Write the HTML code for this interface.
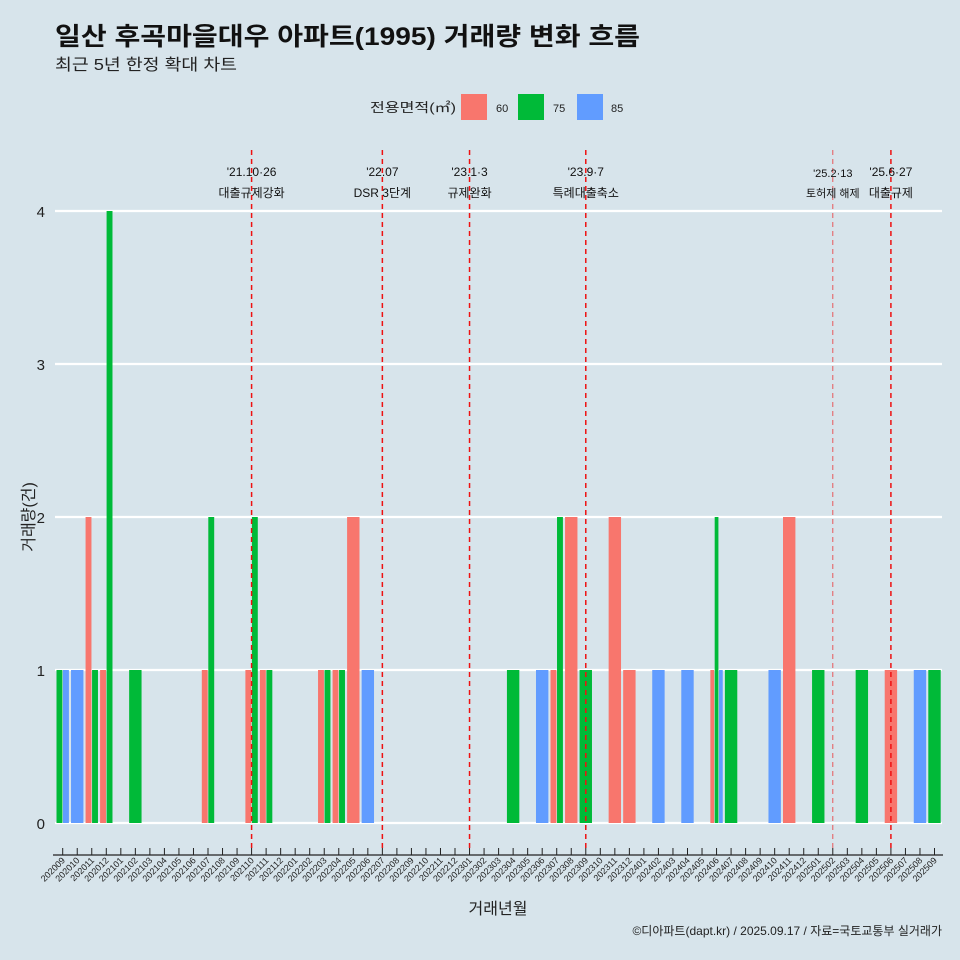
<!DOCTYPE html>
<html><head><meta charset="utf-8"><style>
body{margin:0;background:#d7e4eb;}
svg{display:block;font-family:"Liberation Sans","Noto Sans CJK KR",sans-serif;}
</style></head><body>
<svg id="chart" width="960" height="960" viewBox="0 0 960 960">
<rect width="960" height="960" fill="#d7e4eb"/>
<text x="55" y="45" font-size="25" font-weight="bold" fill="#111" textLength="585" lengthAdjust="spacingAndGlyphs">일산 후곡마을대우 아파트(1995) 거래량 변화 흐름</text>
<text x="55" y="70" font-size="16" fill="#222" textLength="182" lengthAdjust="spacingAndGlyphs">최근 5년 한정 확대 차트</text>
<g>
<text x="370" y="112" font-size="13" fill="#222" textLength="86" lengthAdjust="spacingAndGlyphs">전용면적(㎡)</text>
<rect x="461" y="94" width="26" height="26" fill="#f8766d"/>
<text x="496" y="112" font-size="11" fill="#222">60</text>
<rect x="518" y="94" width="26" height="26" fill="#00ba38"/>
<text x="553" y="112" font-size="11" fill="#222">75</text>
<rect x="577" y="94" width="26" height="26" fill="#619cff"/>
<text x="611" y="112" font-size="11" fill="#222">85</text>
</g>
<g id="grid"></g><g id="bars"></g><g id="events"></g><g id="axes"></g>
<text x="498" y="914" font-size="16" text-anchor="middle" fill="#222">거래년월</text>
<text transform="translate(34,517) rotate(-90)" font-size="16" text-anchor="middle" fill="#222">거래량(건)</text>
<text x="942" y="935" font-size="12" text-anchor="end" fill="#222">©디아파트(dapt.kr) / 2025.09.17 / 자료=국토교통부 실거래가</text>
</svg>
<script>
const months = [];
for (let y = 2020, m = 9; !(y === 2025 && m === 10); ) { months.push(String(y) + String(m).padStart(2, '0')); m++; if (m > 12) { m = 1; y++; } }
const sizes = ['60', '75', '85'];
const colors = {'60': '#f8766d', '75': '#00ba38', '85': '#619cff'};
const dealMonths = ['202009','202009','202010','202011','202011','202012','202012','202102','202107','202107','202110','202110','202111','202111','202203','202203','202204','202204','202205','202206','202304','202306','202307','202307','202308','202309','202311','202312','202402','202404','202406','202406','202406','202407','202410','202411','202501','202504','202506','202508','202509'];
const dealSizes =  ['75','85','85','60','75','60','75','75','60','75','60','75','60','75','60','75','60','75','60','85','75','85','60','75','60','75','60','60','85','85','60','75','85','75','85','60','75','75','60','85','75'];
const dealCounts = [1,1,1,2,1,1,4,1,1,2,1,2,1,1,1,1,1,1,2,1,1,1,1,2,2,1,2,1,1,1,1,2,1,1,1,2,1,1,1,1,1];
const yTicks = [0, 1, 2, 3, 4];
const eventMonths = ['202110', '202207', '202301', '202309', '202502', '202506'];
const eventLine1 = ["'21.10·26", "'22.07", "'23.1·3", "'23.9·7", "'25.2·13", "'25.6·27"];
const eventLine2 = ['대출규제강화', 'DSR 3단계', '규제완화', '특례대출축소', '토허제 해제', '대출규제'];

const NS = 'http://www.w3.org/2000/svg';
const step = 14.53, x0 = 62.7, bw = 13;
const xs = i => x0 + step * i;
const ys = v => 823 - 153 * v;
function mk(tag, attrs, parent) { const e = document.createElementNS(NS, tag); for (const k in attrs) e.setAttribute(k, attrs[k]); parent.appendChild(e); return e; }
const grid = document.getElementById('grid'), bars = document.getElementById('bars'), ev = document.getElementById('events'), axes = document.getElementById('axes');

yTicks.forEach(t => {
  const l = mk('line', {x1: 55, x2: 942, y1: ys(t), y2: ys(t), stroke: '#fff', 'stroke-width': 2.2}, grid);
  
  
  const tx = mk('text', {x: 45, y: ys(t) + 6, 'font-size': 15, 'text-anchor': 'end', fill: '#222'}, axes);
  tx.textContent = t;
  
  
});

months.forEach((mo, i) => {
  const idx = [];
  dealMonths.forEach((d, j) => { if (d === mo) idx.push(j); });
  idx.sort((a, b) => sizes.indexOf(dealSizes[a]) - sizes.indexOf(dealSizes[b]));
  const w = bw / Math.max(idx.length, 1);
  idx.forEach((j, k) => {
    const x = xs(i) - bw / 2 + k * w;
    const r = mk('rect', {x: x + 0.3, y: ys(dealCounts[j]), width: w - 0.6, height: ys(0) - ys(dealCounts[j]), fill: colors[dealSizes[j]]}, bars);
    
    
  });
  const tk = mk('line', {x1: xs(i), x2: xs(i), y1: 848, y2: 855, stroke: '#222', 'stroke-width': 1}, axes);
  
  
  const lb = mk('text', {transform: `translate(${xs(i) + 3},861) rotate(-45)`, 'font-size': 9, 'text-anchor': 'end', fill: '#222'}, axes);
  lb.textContent = mo;
  
  
});
const ax = mk('line', {x1: 53, x2: 943, y1: 855, y2: 855, stroke: '#222', 'stroke-width': 1.3}, axes);



eventMonths.forEach((mo, k) => {
  const i = months.indexOf(mo), x = xs(i);
  const faint = mo === '202502';
  const l = mk('line', {x1: x, x2: x, y1: 150, y2: 850, stroke: faint ? '#e8575a' : '#ee1111', 'stroke-width': faint ? 1 : 1.5, 'stroke-dasharray': '5,4'}, ev);
  
  
  const fs = faint ? 11 : 12;
  const t1 = mk('text', {x: x, y: faint ? 177 : 176, 'font-size': fs, 'text-anchor': 'middle', fill: '#111'}, ev);
  t1.textContent = eventLine1[k];
  
  
  const t2 = mk('text', {x: x, y: 197, 'font-size': fs, 'text-anchor': 'middle', fill: '#111'}, ev);
  t2.textContent = eventLine2[k];
  
  
});
</script>
</body></html>
